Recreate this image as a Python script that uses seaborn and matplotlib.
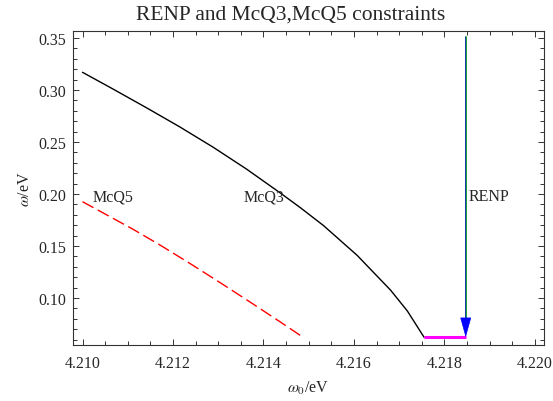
import numpy as np
import pandas as pd
import seaborn as sns
import matplotlib
matplotlib.use('Agg')
import matplotlib.pyplot as plt
from matplotlib.ticker import MultipleLocator, FormatStrFormatter

# values
mcq3_w0 = [4.2100, 4.21067, 4.21141, 4.21215, 4.21289, 4.21363, 4.21437, 4.21481,
           4.21533, 4.21607, 4.21681, 4.21718, 4.21755]
mcq3_w = [0.317, 0.301, 0.283, 0.2645, 0.2449, 0.2238, 0.2010, 0.1870,
          0.1695, 0.1410, 0.1075, 0.0875, 0.0622]

mcq5_w0 = [4.2100, 4.2111, 4.21171, 4.2124, 4.21304, 4.2137, 4.21437, 4.2149]
mcq5_w = [0.1926, 0.1665, 0.1510, 0.1325, 0.1148, 0.0962, 0.0770, 0.0615]

renp_w0 = 4.21847
renp_top = 0.351
w_min = 0.0622

labels = ['McQ5', 'McQ3', 'RENP']
label_w0 = [4.21068, 4.2140, 4.21899]
label_w = [0.198, 0.198, 0.198]

sns.set_style('ticks')
plt.rcParams['font.family'] = ['Liberation Serif', 'DejaVu Serif']
plt.rcParams['mathtext.fontset'] = 'stix'

df3 = pd.DataFrame({'w0': mcq3_w0, 'w': mcq3_w})
df5 = pd.DataFrame({'w0': mcq5_w0, 'w': mcq5_w})

fig = plt.figure(figsize=(5.53, 4.02), dpi=100)
ax = fig.add_axes([73 / 553, 1 - 346 / 402, (544 - 73) / 553, (346 - 32) / 402])

sns.lineplot(data=df3, x='w0', y='w', color='black', lw=1.0, ax=ax, sort=False)
sns.lineplot(data=df5, x='w0', y='w', color='red', lw=1.0, ax=ax, sort=False,
             dashes=False, linestyle=(0, (9, 3.5)))

# RENP vertical line with arrow, and the magenta segment
ax.plot([renp_w0, renp_w0], [renp_top, w_min + 0.01], color='#22aa22', lw=1.4)
ax.annotate('', xy=(renp_w0, w_min), xytext=(renp_w0, renp_top),
            arrowprops=dict(arrowstyle='-|>,head_length=1.3,head_width=0.36',
                            color='blue', lw=0.5, mutation_scale=10,
                            shrinkA=0, shrinkB=0))
ax.plot([mcq3_w0[-1], renp_w0], [w_min, w_min], color='magenta', lw=2.2,
        solid_capstyle='butt')

for t, x, y in zip(labels, label_w0, label_w):
    ax.text(x, y, t, fontsize=11.5, ha='center', va='center')

ax.set_xlim(4.20979, 4.2202)
ax.set_ylim(0.0548, 0.3567)
ax.xaxis.set_major_locator(MultipleLocator(0.002))
ax.xaxis.set_minor_locator(MultipleLocator(0.0005))
ax.yaxis.set_major_locator(MultipleLocator(0.05))
ax.yaxis.set_minor_locator(MultipleLocator(0.01))
ax.xaxis.set_major_formatter(FormatStrFormatter('%.3f'))
ax.yaxis.set_major_formatter(FormatStrFormatter('%.2f'))
ax.tick_params(which='both', direction='in', top=True, right=True,
               labelsize=11.5, color='#333333', width=0.7)
ax.tick_params(which='major', length=4.5, pad=7)
ax.tick_params(which='minor', length=2.7)
ax.tick_params(axis='y', which='major', pad=5)
for s in ax.spines.values():
    s.set_linewidth(0.8)
    s.set_color('#333333')

ax.set_xlabel(r'$\omega_0$/eV', fontsize=11.5, labelpad=6)
ax.set_ylabel(r'$\omega$/eV', fontsize=11.5, labelpad=4)
fig.text(291 / 553, 1 - 15 / 402, 'RENP and McQ3,McQ5 constraints',
         fontsize=15.5, ha='center', va='center')

fig.savefig('out.png', dpi=100)
